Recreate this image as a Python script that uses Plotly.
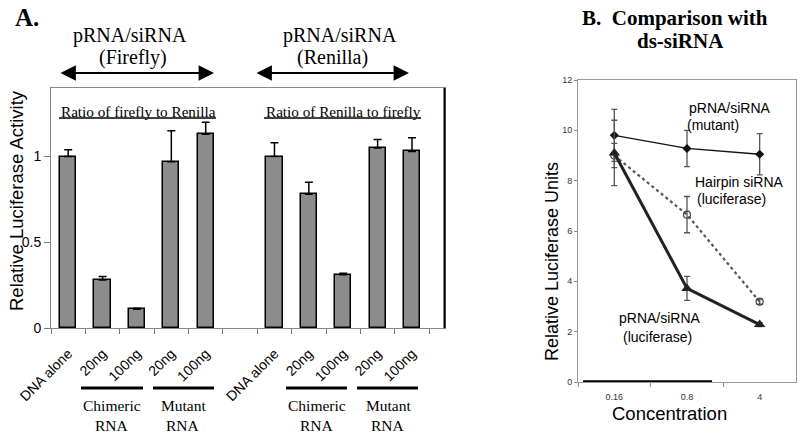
import plotly.graph_objects as go

# ---- Panel A data ----
a_pos = [0, 1, 2, 3, 4, 6, 7, 8, 9, 10]
a_labels = ["DNA alone", "20ng", "100ng", "20ng", "100ng",
            "DNA alone", "20ng", "100ng", "20ng", "100ng"]
a_values = [1.00, 0.28, 0.11, 0.97, 1.13,
            1.00, 0.78, 0.31, 1.05, 1.03]
a_errors = [0.04, 0.02, 0.005, 0.18, 0.07,
            0.08, 0.07, 0.01, 0.05, 0.08]
a_yticks = [0, 0.5, 1]
a_ytext = ["0", "0.5", "1"]

# ---- Panel B data ----
b_conc = ["0.16", "0.8", "4"]
b_mutant = [9.8, 9.28, 9.05]
b_mutant_err = [1.03, 0.72, 0.82]
b_hairpin = [9.0, 6.65, 3.19]
b_hairpin_err = [0.48, 0.72, 0.1]
b_lucif = [9.1, 3.72, 2.28]
b_lucif_err = [1.3, 0.48, 0.08]
b_yticks = [0, 2, 4, 6, 8, 10, 12]

W, H = 800, 435
def px(x): return x / W
def py(y): return 1 - y / H

SERIF = "Liberation Serif"
SANS = "Liberation Sans"

fig = go.Figure()

fig.add_trace(go.Bar(
    x=a_pos, y=a_values, width=0.47,
    marker=dict(color="#8c8c8c", line=dict(color="black", width=1.5)),
    error_y=dict(type="data", array=a_errors, arrayminus=[0] * len(a_errors),
                 symmetric=False, color="black", thickness=1.5, width=4),
    xaxis="x", yaxis="y", showlegend=False))
# invisible trace for the label axis
fig.add_trace(go.Scatter(x=a_pos, y=[0] * len(a_pos), mode="markers",
                         marker=dict(opacity=0), xaxis="x3", yaxis="y",
                         showlegend=False, hoverinfo="skip"))

fig.add_trace(go.Scatter(
    x=b_conc, y=b_hairpin, mode="lines+markers",
    line=dict(color="#555555", width=2.2, dash="dot"),
    marker=dict(symbol="circle-open", size=7, color="#444444", line=dict(width=1.2)),
    error_y=dict(type="data", array=b_hairpin_err, color="#555555", thickness=1.3, width=3),
    xaxis="x2", yaxis="y2", showlegend=False))
fig.add_trace(go.Scatter(
    x=b_conc, y=b_mutant, mode="lines+markers",
    line=dict(color="#111111", width=1.3),
    marker=dict(symbol="diamond", size=7, color="#111111"),
    error_y=dict(type="data", array=b_mutant_err, color="#555555", thickness=1.3, width=3),
    xaxis="x2", yaxis="y2", showlegend=False))
fig.add_trace(go.Scatter(
    x=b_conc, y=b_lucif, mode="lines+markers",
    line=dict(color="#222222", width=3),
    marker=dict(symbol="triangle-up", size=10, color="#222222"),
    error_y=dict(type="data", array=b_lucif_err, color="#555555", thickness=1.3, width=3),
    xaxis="x2", yaxis="y2", showlegend=False))

a_dom_x = [px(51), px(445)]
a_dom_y = [py(328), py(88)]
b_dom_x = [px(578), px(796)]
b_dom_y = [py(382), py(80)]

a_range = [-0.5, 10.96]

fig.update_layout(
    width=W, height=H, margin=dict(l=0, r=0, t=0, b=0, autoexpand=False),
    paper_bgcolor="white", plot_bgcolor="white",
    bargap=0,
    xaxis=dict(domain=a_dom_x, anchor="y", range=a_range, automargin=False,
               tickvals=[i - 0.5 for i in range(12)], ticktext=[""] * 12,
               ticks="outside", ticklen=5, tickcolor="#777777",
               showline=True, linecolor="#888888", linewidth=1, mirror=True,
               showgrid=False, zeroline=False),
    xaxis3=dict(overlaying="x", anchor="y", range=a_range, side="bottom", automargin=False,
                tickvals=a_pos, ticktext=a_labels, tickangle=-45,
                ticks="outside", ticklen=0, ticklabelstandoff=11,
                tickfont=dict(family=SANS, size=14, color="black"),
                showline=False, showgrid=False, zeroline=False),
    yaxis=dict(domain=a_dom_y, anchor="x", range=[0, 1.40], automargin=False,
               tickvals=a_yticks, ticktext=a_ytext,
               ticks="outside", ticklen=6, tickcolor="#777777",
               tickfont=dict(family=SANS, size=14, color="black"),
               showline=True, linecolor="#888888", linewidth=1, mirror=True,
               showgrid=False, zeroline=False),
    xaxis2=dict(domain=b_dom_x, anchor="y2", type="category", automargin=False,
                categoryorder="array", categoryarray=b_conc,
                range=[-0.5, 2.5], tickson="boundaries",
                ticks="outside", ticklen=4, tickcolor="#888888",
                tickfont=dict(family=SANS, size=9, color="#333333"),
                ticklabelstandoff=6,
                showline=True, linecolor="#999999", linewidth=1, mirror=True,
                showgrid=False, zeroline=False),
    yaxis2=dict(domain=b_dom_y, anchor="x2", range=[0, 12], automargin=False,
                tickvals=b_yticks, ticks="outside", ticklen=3,
                tickcolor="#888888",
                tickfont=dict(family=SANS, size=9, color="#333333"),
                showline=True, linecolor="#999999", linewidth=1, mirror=True,
                showgrid=False, zeroline=False),
)

ann = []
def text(x, y, t, size, family=SERIF, bold=False, angle=0, color="black", xanchor="center"):
    ann.append(dict(x=px(x), y=py(y), xref="paper", yref="paper", text=("<b>%s</b>" % t) if bold else t,
                    showarrow=False, textangle=angle, xanchor=xanchor, yanchor="middle",
                    font=dict(family=family, size=size, color=color)))

text(27, 18, "A.", 25, bold=True)
text(130, 35, "pRNA/siRNA", 20)
text(133, 57, "(Firefly)", 20)
text(340, 35, "pRNA/siRNA", 20)
text(332, 57, "(Renilla)", 20)
text(138, 111, "Ratio of firefly to Renilla", 15.2)
text(343, 111, "Ratio of Renilla to firefly", 15.2)
text(16, 201, "Relative Luciferase Activity", 18.5, family=SANS, angle=-90)
text(112, 405, "Chimeric", 15.5)
text(112, 425, "RNA", 15.5)
text(183, 405, "Mutant", 15.5)
text(183, 425, "RNA", 15.5)
text(317, 405, "Chimeric", 15.5)
text(317, 425, "RNA", 15.5)
text(388, 405, "Mutant", 15.5)
text(388, 425, "RNA", 15.5)

text(675, 18, "B.&nbsp; Comparison with", 21, bold=True)
text(680, 41, "ds-siRNA", 21, bold=True)
text(552, 262, "Relative Luciferase Units", 18, family=SANS, angle=-90)
text(669, 413, "Concentration", 18.5, family=SANS)
text(730, 108, "pRNA/siRNA", 14, family=SANS)
text(713, 125, "(mutant)", 14, family=SANS)
text(739, 182, "Hairpin siRNA", 14, family=SANS)
text(731, 199, "(luciferase)", 14, family=SANS)
text(660, 318, "pRNA/siRNA", 14, family=SANS)
text(657, 337, "(luciferase)", 14, family=SANS)

# double-headed arrows
for x0, x1 in [(59, 214), (255, 409)]:
    ann.append(dict(x=px(x1), y=py(73), xref="paper", yref="paper", ax=-(x1 - x0), ay=0,
                    axref="pixel", ayref="pixel", text="", showarrow=True,
                    arrowhead=2, startarrowhead=2, arrowside="end+start",
                    arrowsize=1.4, startarrowsize=1.4, arrowwidth=2.2, arrowcolor="black"))
fig.update_layout(annotations=ann)

shapes = []
def hline(x0, x1, y, w):
    shapes.append(dict(type="line", xref="paper", yref="paper", x0=px(x0), x1=px(x1),
                       y0=py(y), y1=py(y), line=dict(color="black", width=w)))
hline(59, 216, 118, 1.5)
hline(264, 421, 118, 1.5)
hline(81, 143, 388, 3)
hline(153, 214, 388, 3)
hline(286, 347, 388, 3)
hline(357, 418, 388, 3)
# right border of panel A (darker)
shapes.append(dict(type="line", xref="paper", yref="paper", x0=px(444.5), x1=px(444.5),
                   y0=py(328), y1=py(88), line=dict(color="black", width=2)))
# thick baseline segment in panel B
shapes.append(dict(type="line", xref="x2 domain", yref="y2", x0=0.023, x1=0.615,
                   y0=0, y1=0, line=dict(color="black", width=3.5)))
fig.update_layout(shapes=shapes)

fig.write_html("out.html", config={"displayModeBar": False},
               post_script="document.body.style.margin='0';document.body.style.padding='0';"
                           "document.body.style.overflow='hidden';")
